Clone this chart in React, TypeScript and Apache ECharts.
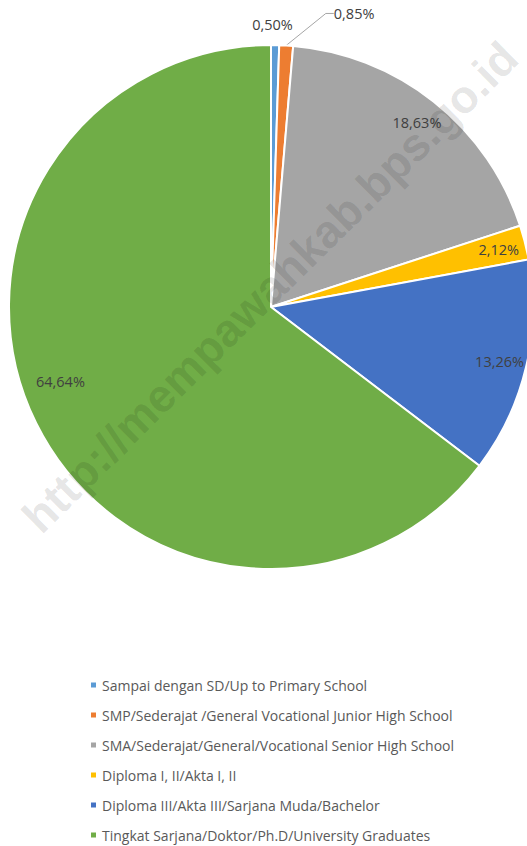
import React, { useEffect, useRef } from "react";
import * as echarts from "echarts";

const categories = [
  "Sampai dengan SD/Up to Primary School",
  "SMP/Sederajat /General Vocational Junior High School",
  "SMA/Sederajat/General/Vocational Senior High School",
  "Diploma I, II/Akta I, II",
  "Diploma III/Akta III/Sarjana Muda/Bachelor",
  "Tingkat Sarjana/Doktor/Ph.D/University Graduates",
];
const values = [0.5, 0.85, 18.63, 2.12, 13.26, 64.64];
const colors = ["#5B9BD5", "#ED7D31", "#A5A5A5", "#FFC000", "#4472C4", "#70AD47"];
const watermark = "http://mempawahkab.bps.go.id";

const fmt = (v: number) => v.toFixed(2).replace(".", ",") + "%";
const FONT = "'Open Sans', 'Noto Sans', sans-serif";
const CENTER = [271, 307];
const R = 262;
const LABEL_SIZE = 14.5;

function overlay(radius: number, shown: number[], layout?: any) {
  return {
    type: "pie",
    silent: true,
    center: CENTER,
    radius: [0, radius],
    startAngle: 90,
    clockwise: true,
    z: 3,
    emphasis: { disabled: true },
    itemStyle: { color: "rgba(0,0,0,0)", borderWidth: 0 },
    labelLine: { show: false },
    labelLayout: layout,
    data: categories.map((name, i) => ({
      name,
      value: values[i],
      label: {
        show: shown.includes(i),
        position: "inside",
        formatter: () => fmt(values[i]),
        color: "#404040",
        fontSize: LABEL_SIZE,
        fontFamily: FONT,
      },
    })),
  };
}

export default function App() {
  const ref = useRef<HTMLDivElement>(null);
  useEffect(() => {
    if (!ref.current) return;
    const chart = echarts.init(ref.current, undefined, { renderer: "svg" });
    chart.setOption({
      animation: false,
      backgroundColor: "#ffffff",
      legend: {
        orient: "vertical",
        left: 89,
        top: 677,
        padding: 0,
        height: 169,
        itemWidth: 7,
        itemHeight: 7,
        itemGap: 14,
        icon: "rect",
        data: categories,
        selectedMode: false,
        textStyle: { color: "#595959", fontSize: 14, fontFamily: FONT, lineHeight: 16 },
      },
      graphic: [
        {
          type: "text",
          x: 270,
          y: 287,
          rotation: 0.78,
          z: 100,
          silent: true,
          style: {
            text: watermark,
            fill: "rgba(0,0,0,0.11)",
            font: "bold 46px 'Liberation Sans', Arial, sans-serif",
            align: "center",
            verticalAlign: "middle",
          },
        },
      ],
      series: [
        {
          type: "pie",
          center: CENTER,
          radius: [0, R],
          startAngle: 90,
          clockwise: true,
          emphasis: { disabled: true },
          itemStyle: { borderColor: "#ffffff", borderWidth: 2 },
          labelLayout: (params: any) => {
            if (params.dataIndex === 1) {
              const r = params.labelRect;
              return { x: r.x + 34, y: r.y + r.height / 2 - 22 };
            }
            return {};
          },
          data: categories.map((name, i) => ({
            name,
            value: values[i],
            itemStyle: { color: colors[i] },
            label: {
              show: i === 1,
              position: "outside",
              formatter: () => fmt(values[i]),
              color: "#404040",
              fontSize: LABEL_SIZE,
              fontFamily: FONT,
            },
            labelLine: {
              show: i === 1,
              length: 10,
              length2: 8,
              smooth: false,
              lineStyle: { color: "#a6a6a6", width: 1 },
            },
          })),
        },
        overlay(464, [2, 3, 4, 5], (p: any) => (p.dataIndex === 5 ? { dy: -30 } : {})),
        overlay(560, [0], (p: any) => (p.dataIndex === 0 ? { dx: -3 } : {})),
      ],
    });
    return () => chart.dispose();
  }, []);
  return (
    <div
      ref={ref}
      style={{ position: "fixed", left: 0, top: 0, width: 527, height: 846 }}
    />
  );
}
